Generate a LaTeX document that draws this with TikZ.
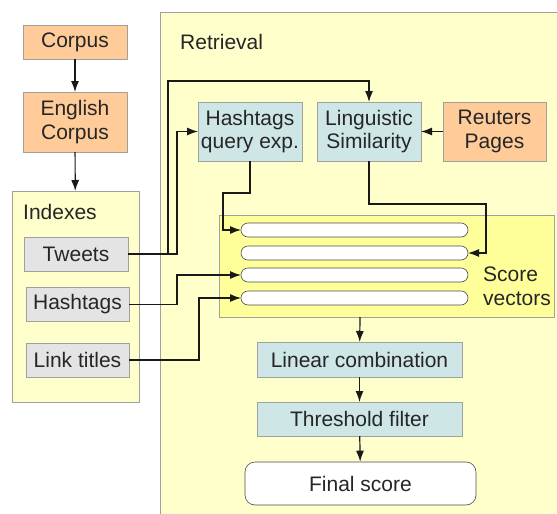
\documentclass[tikz,border=0pt]{standalone}
\usepackage{fontspec}
\setmainfont{Liberation Sans}
\usetikzlibrary{arrows.meta}
\tikzset{>={Latex[width=8pt,length=11pt]}}
\definecolor{srcColor}{RGB}{255,204,153}
\definecolor{stepColor}{RGB}{207,230,230}
\definecolor{indexColor}{RGB}{228,228,228}
\definecolor{areaColor}{RGB}{255,255,204}
\definecolor{scoreColor}{RGB}{255,255,153}
\definecolor{lineColor}{RGB}{160,160,160}

\begin{document}
\begin{tikzpicture}[
    x = 1pt, y = -1pt,
    every node/.style = {font=\fontsize{21}{23.5}\selectfont, text=black!85},
    box/.style = {draw=lineColor, semithick, inner sep=0pt, outer sep=0pt,
        align=center, minimum width=104pt},
    src/.style = {box, fill=srcColor},
    proc/.style = {box, fill=stepColor},
    idx/.style = {box, fill=indexColor, minimum height=34pt},
    area/.style = {draw=lineColor, semithick},
    bar/.style = {draw=black!70, semithick, fill=white, rounded corners=7pt,
        minimum width=227pt, minimum height=14pt, inner sep=0pt, outer sep=0pt},
    link/.style = {->, line width=1.2pt, black!90}
  ]
  \useasboundingbox (0,0) rectangle (557,514);

  % panels
  \draw[area, fill=areaColor] (160,12) rectangle (580,540);
  \node[area, fill=areaColor, minimum width=127pt, minimum height=211pt,
      inner sep=0pt, outer sep=0pt] (INDEXES) at (75.5,296.5) {};
  \node[anchor=west, inner sep=0pt] (RETLABEL) at (180,42) {Retrieval};
  \node[anchor=west, inner sep=0pt] (IDXLABEL) at (23,212) {Indexes};

  % sources
  \node[src, minimum height=34pt] (CORPUS) at (75,42) {Corpus};
  \node[src, minimum height=60pt] (ENGLISH) at (75,122) {English\\Corpus};
  \node[src, minimum width=103pt, minimum height=59pt] (REUTERS) at (494.5,131.5) {Reuters\\Pages};

  % indexes
  \node[idx] (TWEETS) at (76,254) {Tweets};
  \node[idx, minimum width=103pt] (HASHTAGS) at (77.5,304.5) {Hashtags};
  \node[idx, minimum width=103pt] (LINKS) at (77.5,360) {Link titles};

  % retrieval steps
  \node[proc, minimum height=59pt] (HQUERY) at (250,131.5) {Hashtags\\query exp.};
  \node[proc, minimum height=59pt] (LING) at (369,131.5) {Linguistic\\Similarity};

  \draw[area, fill=scoreColor] (219,215) rectangle (554,317);
  \coordinate (SCOREBOT) at (360,317);
  \foreach \y [count=\j] in {230, 253, 275, 298}
  \node[bar] (BAR\j) at (354.5,\y) {};
  \node[anchor=west, inner sep=0pt, align=left] (SCORE) at (483,286.5) {Score\\vectors};

  \node[proc, minimum width=205pt, minimum height=35pt] (LINEAR) at (359.5,359.5) {Linear combination};
  \node[proc, minimum width=205pt, minimum height=34pt] (THRESH) at (359.5,419) {Threshold filter};
  \node[draw=black!70, semithick, fill=white, rounded corners=10pt,
      minimum width=231pt, minimum height=43pt, inner sep=0pt] (FINAL) at (360.5,483.5) {Final score};

  % connectors
  \draw[link] (CORPUS) -- (ENGLISH);
  \draw[link] (ENGLISH) -- (INDEXES);
  \draw[link] (TWEETS.east) -- (168,254) -- (168,81) -| (LING.north);
  \draw[link] (TWEETS.east) -- (177,254) |- (HQUERY.west);
  \draw[link] (REUTERS) -- (LING);
  \draw[link] (HQUERY.south) |- (223,193) |- (BAR1.west);
  \draw[link] (LING.south) |- (486,204) |- (BAR2.east);
  \draw[link] (HASHTAGS.east) -- (177,304.5) |- (BAR3.west);
  \draw[link] (LINKS.east) -- (199,360) |- (BAR4.west);
  \draw[link] (SCOREBOT) -- (LINEAR);
  \draw[link] (LINEAR) -- (THRESH);
  \draw[link] (THRESH) -- (FINAL);
\end{tikzpicture}
\end{document}
